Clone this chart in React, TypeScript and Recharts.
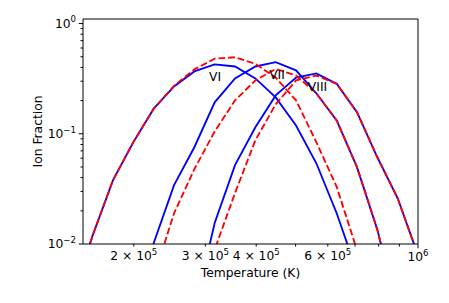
import React from 'react';
import { LineChart, Line, XAxis, YAxis, ReferenceLine, ReferenceDot } from 'recharts';

// Temperature grid (K), log10 T = 5.15 ... 6.05 in steps of 0.05
const temperatureK = [141000, 158500, 177800, 199500, 223900, 251200, 281800, 316200, 354800, 398100, 446700, 501200, 562300, 631000, 707900, 794300, 891300, 1000000, 1122000];

// Ion fractions (solid blue / dashed red)
const ionVIBlue = [0.0032, 0.012, 0.038, 0.084, 0.169, 0.269, 0.368, 0.426, 0.408, 0.318, 0.214, 0.119, 0.054, 0.019, 0.0056, 0.0013, null, null, null];
const ionVIRed = [0.0032, 0.012, 0.038, 0.084, 0.169, 0.272, 0.384, 0.48, 0.495, 0.431, 0.324, 0.201, 0.084, 0.033, 0.0088, 0.002, null, null, null];
const ionVIIBlue = [null, null, null, 0.0025, 0.0102, 0.0342, 0.0755, 0.193, 0.318, 0.408, 0.447, 0.376, 0.233, 0.132, 0.0498, 0.0135, 0.0025, null, null];
const ionVIIRed = [null, null, null, 0.0012, 0.005, 0.019, 0.0478, 0.105, 0.201, 0.305, 0.387, 0.338, 0.233, 0.132, 0.0498, 0.0135, 0.0025, null, null];
const ionVIIIBlue = [null, null, null, null, null, null, 0.0025, 0.0155, 0.0519, 0.1146, 0.223, 0.324, 0.353, 0.284, 0.157, 0.0612, 0.026, 0.0079, 0.002];
const ionVIIIRed = [null, null, null, null, null, null, 0.0016, 0.0089, 0.029, 0.0873, 0.185, 0.305, 0.338, 0.284, 0.157, 0.0612, 0.026, 0.0079, 0.002];

// Annotations
const ionLabels = ['VI', 'VII', 'VIII'];
const labelT = [317000, 450000, 566000];
const labelFrac = [0.327, 0.345, 0.269];

// Axis ticks
const xTicks = [200000, 300000, 400000, 500000, 600000, 700000, 800000, 900000, 1000000];
const xTickMantissa: Record<number, string> = { 200000: '2', 300000: '3', 400000: '4', 600000: '6' };
const yTicks = [0.01, 0.02, 0.03, 0.04, 0.05, 0.06, 0.07, 0.08, 0.09, 0.1, 0.2, 0.3, 0.4, 0.5, 0.6, 0.7, 0.8, 0.9, 1];
const yMajor: Record<string, string> = { '0.01': '\u22122', '0.1': '\u22121', '1': '0' };

const data = temperatureK.map((T, i) => ({
  T,
  viB: ionVIBlue[i],
  viR: ionVIRed[i],
  viiB: ionVIIBlue[i],
  viiR: ionVIIRed[i],
  viiiB: ionVIIIBlue[i],
  viiiR: ionVIIIRed[i],
}));

const FS = 12.3;
const SUP = 8.6;

const XTick = (props: any) => {
  const { x, y, payload } = props;
  const v = payload.value;
  const isMajor = v === 1000000;
  const len = isMajor ? 4.3 : 2.5;
  let label: React.ReactNode = null;
  if (isMajor) {
    label = (
      <text x={x} y={y + 17} textAnchor="middle" fontSize={FS} fill="#000">
        <tspan>10</tspan>
        <tspan dy={-5.5} fontSize={SUP}>6</tspan>
      </text>
    );
  } else if (xTickMantissa[v]) {
    label = (
      <text x={x} y={y + 16} textAnchor="middle" fontSize={FS} fill="#000">
        <tspan>{xTickMantissa[v] + ' \u00d7 10'}</tspan>
        <tspan dy={-5.5} fontSize={SUP}>5</tspan>
      </text>
    );
  }
  return (
    <g>
      <line x1={x} y1={y} x2={x} y2={y + len} stroke="#000" strokeWidth={1} />
      {label}
    </g>
  );
};

const YTick = (props: any) => {
  const { x, y, payload } = props;
  const v = payload.value;
  const key = String(v);
  const exp = yMajor[key];
  const len = exp !== undefined ? 4.3 : 2.5;
  return (
    <g>
      <line x1={x - len} y1={y} x2={x} y2={y} stroke="#000" strokeWidth={1} />
      {exp !== undefined && (
        <text x={x - 7} y={y + 4.4} textAnchor="end" fontSize={FS} fill="#000">
          <tspan>10</tspan>
          <tspan dy={-5.5} fontSize={SUP}>{exp}</tspan>
        </text>
      )}
    </g>
  );
};

const XLabel = (props: any) => {
  const vb = props.viewBox;
  return (
    <text x={vb.x + vb.width / 2} y={vb.y + 33} textAnchor="middle" fontSize={FS} fill="#000">
      Temperature (K)
    </text>
  );
};

const YLabel = (props: any) => {
  const vb = props.viewBox;
  const cx = vb.x + 33.5;
  const cy = vb.y + vb.height / 2;
  return (
    <text x={cx} y={cy} transform={`rotate(-90 ${cx} ${cy})`} textAnchor="middle" fontSize={FS} fill="#000">
      Ion Fraction
    </text>
  );
};

const series = [
  { key: 'viB', color: '#0000ff', dash: undefined },
  { key: 'viiB', color: '#0000ff', dash: undefined },
  { key: 'viiiB', color: '#0000ff', dash: undefined },
  { key: 'viR', color: '#ff0000', dash: '6.8 2.9' },
  { key: 'viiR', color: '#ff0000', dash: '6.8 2.9' },
  { key: 'viiiR', color: '#ff0000', dash: '6.8 2.9' },
];

export default function App() {
  return (
    <div style={{ fontFamily: '"DejaVu Sans", sans-serif', width: 441, height: 295 }}>
      <LineChart width={441} height={295} data={data} margin={{ top: 11, right: 31, bottom: 0, left: 0 }}>
        <XAxis
          dataKey="T"
          type="number"
          scale="log"
          domain={[150000, 1000000]}
          allowDataOverflow
          ticks={xTicks}
          interval={0}
          tick={<XTick />}
          tickLine={false}
          tickSize={0}
          tickMargin={0}
          axisLine={{ stroke: '#000', strokeWidth: 1 }}
          height={59}
          label={{ content: (p: any) => <XLabel {...p} /> }}
        />
        <YAxis
          type="number"
          scale="log"
          domain={[0.01, 1.1]}
          allowDataOverflow
          ticks={yTicks}
          interval={0}
          tick={<YTick />}
          tickLine={false}
          tickSize={0}
          tickMargin={0}
          axisLine={{ stroke: '#000', strokeWidth: 1 }}
          width={75}
          label={{ content: (p: any) => <YLabel {...p} /> }}
        />
        {series.map((s) => (
          <Line
            key={s.key}
            dataKey={s.key}
            type="linear"
            stroke={s.color}
            strokeWidth={1.85}
            strokeDasharray={s.dash}
            dot={false}
            activeDot={false}
            isAnimationActive={false}
            connectNulls={false}
          />
        ))}
        <ReferenceLine y={1.1} stroke="#000" strokeWidth={1} />
        <ReferenceLine x={1000000} stroke="#000" strokeWidth={1} />
        {ionLabels.map((lab, i) => (
          <ReferenceDot
            key={lab}
            x={labelT[i]}
            y={labelFrac[i]}
            r={0}
            fill="none"
            stroke="none"
            label={{ value: lab, position: 'center', fill: '#000', fontSize: FS }}
          />
        ))}
      </LineChart>
    </div>
  );
}
